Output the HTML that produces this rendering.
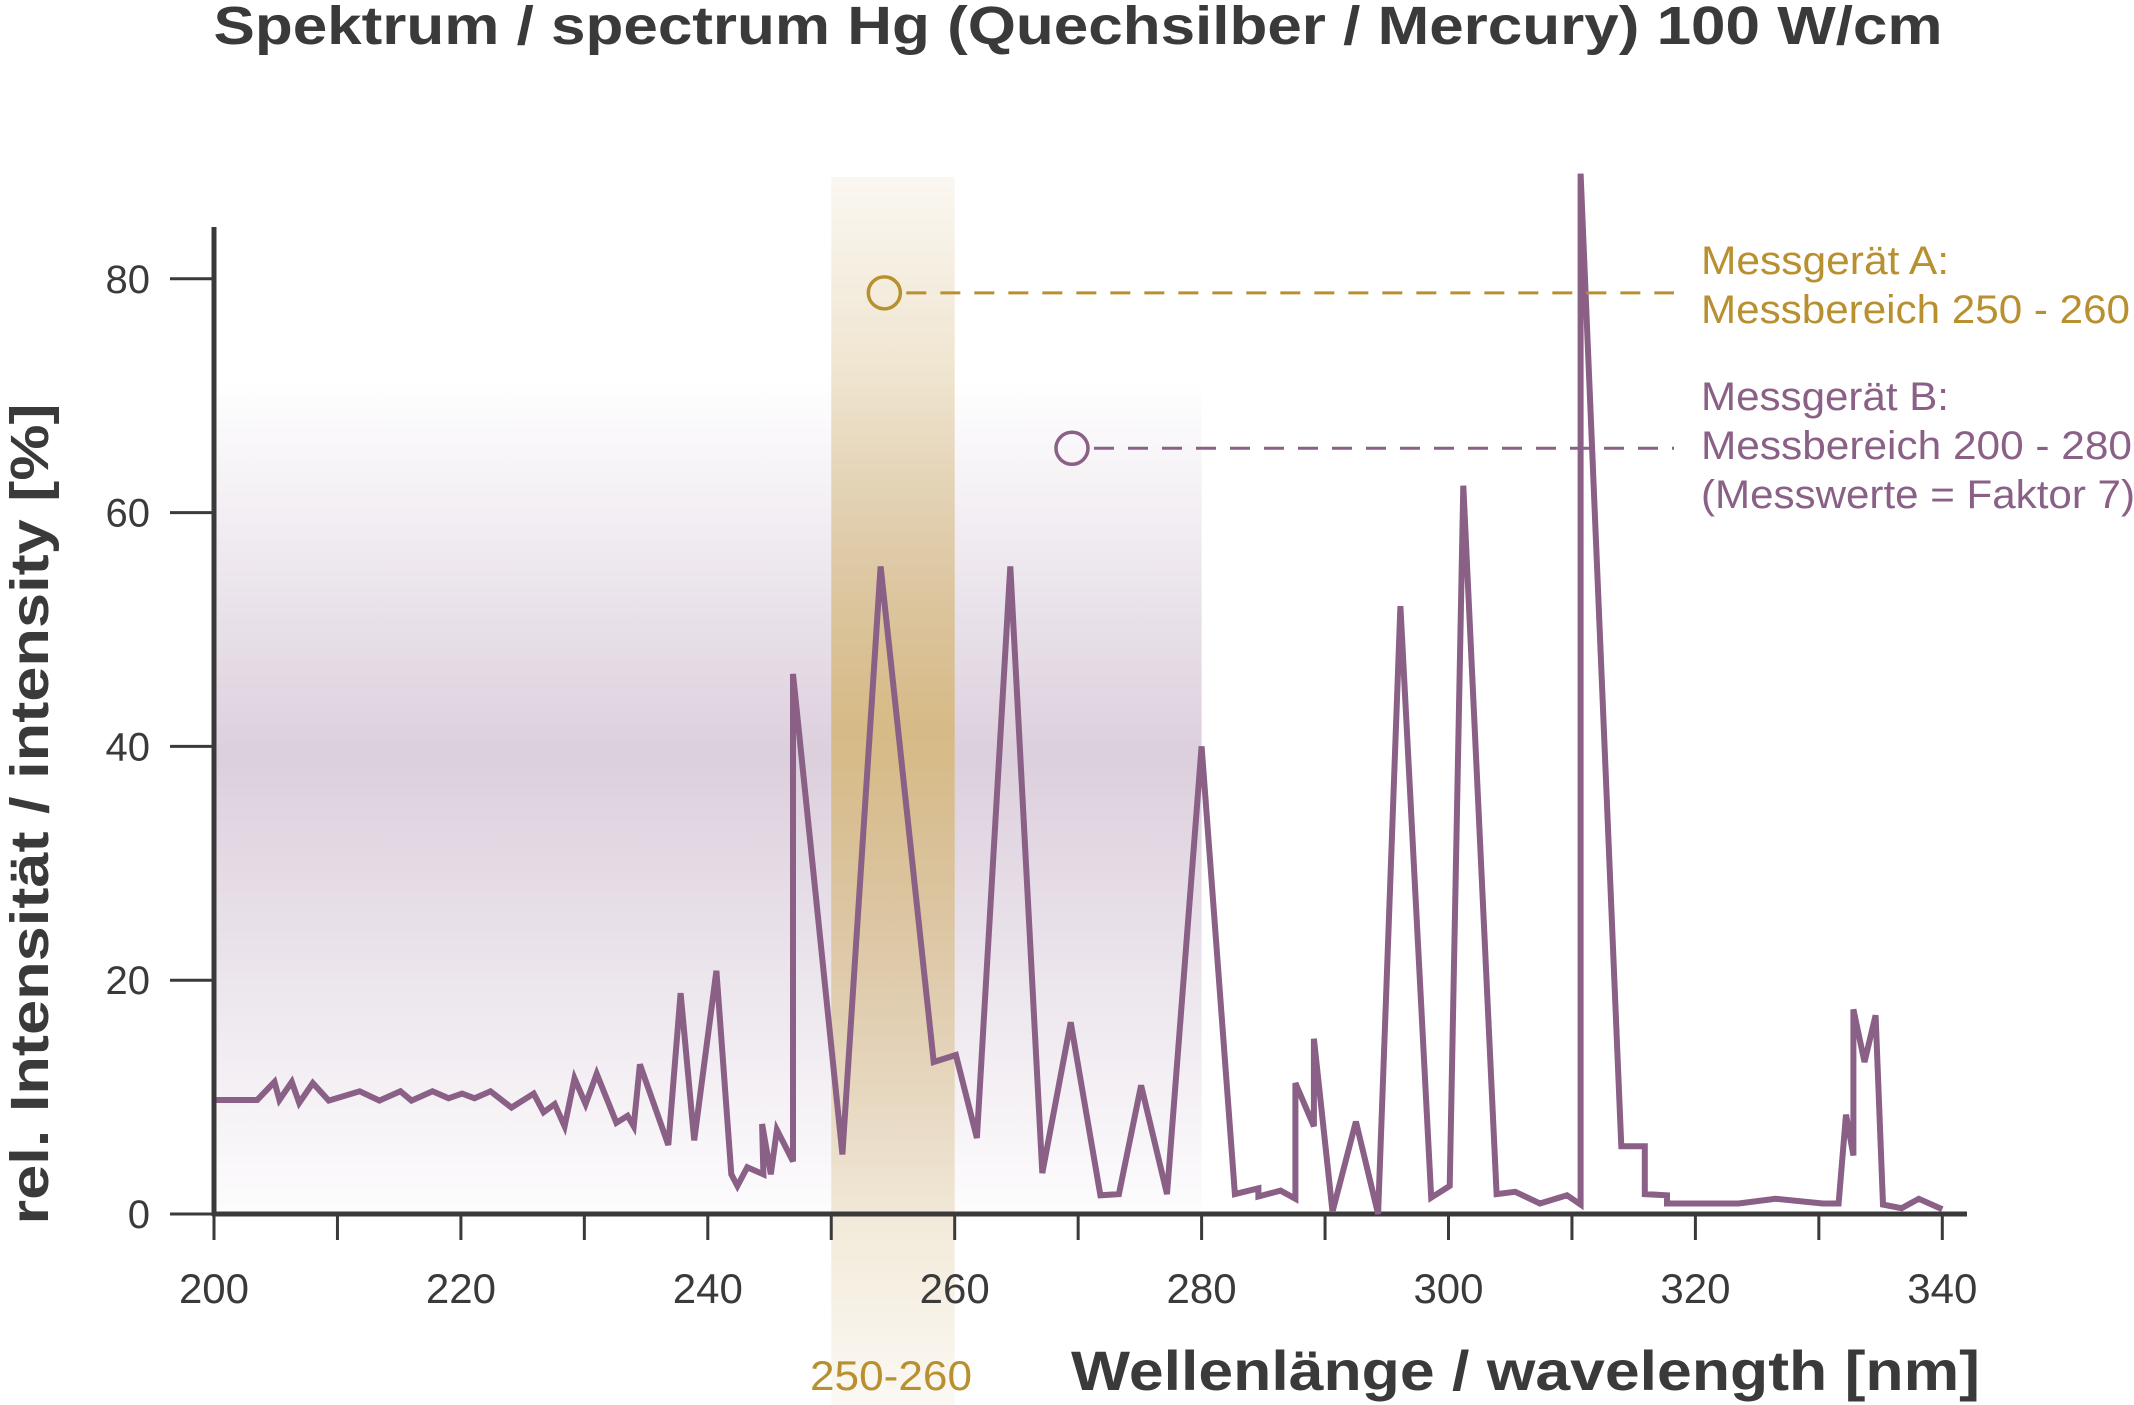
<!DOCTYPE html>
<html><head><meta charset="utf-8"><style>
html,body{margin:0;padding:0;background:#fff;}
svg{display:block;font-family:"Liberation Sans",sans-serif;}
</style></head><body>
<svg id="chart" width="2134" height="1405" viewBox="0 0 2134 1405" xmlns="http://www.w3.org/2000/svg">
<defs>
<linearGradient id="gGold" x1="0" y1="0" x2="0" y2="1">
<stop offset="0" stop-color="#d8bf8c" stop-opacity="0.12"/>
<stop offset="0.45" stop-color="#d6b87c" stop-opacity="0.9"/>
<stop offset="1" stop-color="#d8bf8c" stop-opacity="0.1"/>
</linearGradient>
<linearGradient id="gPurp" x1="0" y1="0" x2="0" y2="1">
<stop offset="0" stop-color="#d8cad9" stop-opacity="0"/>
<stop offset="0.45" stop-color="#d8cad9" stop-opacity="0.9"/>
<stop offset="1" stop-color="#d8cad9" stop-opacity="0.05"/>
</linearGradient>
</defs>
<text x="1078" y="44" text-anchor="middle" font-size="54" font-weight="bold" fill="#3a3a3a" textLength="1729" lengthAdjust="spacingAndGlyphs">Spektrum / spectrum Hg (Quechsilber / Mercury) 100 W/cm</text>
<g id="bands"></g>
<g id="axes"></g>
<g id="series"></g>
<g id="legend"></g>
<text transform="translate(48,814) rotate(-90)" text-anchor="middle" font-size="54" font-weight="bold" fill="#3a3a3a" textLength="821" lengthAdjust="spacingAndGlyphs">rel. Intensität / intensity [%]</text>
<text x="1980" y="1390" text-anchor="end" font-size="56" font-weight="bold" fill="#3a3a3a" textLength="909" lengthAdjust="spacingAndGlyphs">Wellenlänge / wavelength [nm]</text>
<text x="891" y="1390" text-anchor="middle" font-size="42" fill="#b8902f" textLength="162" lengthAdjust="spacingAndGlyphs">250-260</text>
</svg>
<script>
const xTicks = [200,220,240,260,280,300,320,340];
const yTicks = [0,20,40,60,80];
const wavelengths = [200.2,203.5,204.9,205.3,206.3,206.9,208,209.3,211.8,213.4,215.1,216,217.7,219,220.1,221.1,222.4,224.1,225.9,226.7,227.6,228.4,229.2,230.1,231,232.6,233.5,234,234.5,236.8,237.8,238.9,240.7,241.9,242.4,243.2,244.5,244.4,245.1,245.6,246.9,246.9,250.9,254,258.3,260.1,261.8,264.5,267.1,269.4,271.8,273.3,275.1,277.2,280,282.7,284.6,284.6,286.4,287.6,287.6,289.1,289.1,290.6,292.5,294.3,296.1,298.6,300.1,301.2,303.9,305.4,307.4,309.6,310.7,310.7,314,315.9,315.9,317.7,317.7,323.5,326.5,330.3,331.6,332.2,332.8,332.8,333.7,334.6,335.2,336.7,338.1,340];
const intensities = [9.75,9.75,11.3,9.75,11.3,9.5,11.2,9.7,10.5,9.7,10.5,9.7,10.5,9.9,10.3,9.9,10.5,9.1,10.3,8.7,9.4,7.5,11.6,9.4,12,7.8,8.4,7.5,12.8,5.9,18.9,6.3,20.8,3.4,2.4,4,3.4,7.7,3.4,7.2,4.5,46.2,5.1,55.4,13,13.6,6.5,55.4,3.5,16.4,1.6,1.7,11,1.7,40,1.7,2.2,1.5,2,1.3,11.2,7.5,15,0.2,7.9,0,52,1.4,2.4,62.3,1.7,1.9,0.9,1.6,0.8,89,5.8,5.8,1.7,1.6,0.9,0.9,1.3,0.9,0.9,8.5,5,17.5,13,17,0.8,0.5,1.3,0.4];
const bandA = [250,260];
const bandB = [200,280];
const markerA = [254.3,78.8];
const markerB = [269.5,65.5];

const NS='http://www.w3.org/2000/svg';
const X0=214, PX=12.345, Y0=1214, PY=11.69;
const sx=v=>X0+(v-200)*PX;
const sy=v=>Y0-v*PY;
function mk(tag,attrs,parent){const e=document.createElementNS(NS,tag);for(const k in attrs)e.setAttribute(k,attrs[k]);parent.appendChild(e);return e;}
const bands=document.getElementById('bands'),axes=document.getElementById('axes'),series=document.getElementById('series'),legend=document.getElementById('legend');

let r=mk('rect',{x:sx(bandB[0]),y:380,width:sx(bandB[1])-sx(bandB[0]),height:Y0-380,fill:'url(#gPurp)'},bands);


r=mk('rect',{x:sx(bandA[0]),y:177,width:sx(bandA[1])-sx(bandA[0]),height:1405-177,fill:'url(#gGold)'},bands);



let l=mk('line',{x1:X0,y1:227,x2:X0,y2:Y0+2,stroke:'#3a3a3a','stroke-width':5},axes);


l=mk('line',{x1:X0-2,y1:Y0,x2:1967,y2:Y0,stroke:'#3a3a3a','stroke-width':5},axes);


yTicks.forEach(v=>{
  const t=mk('line',{x1:170,y1:sy(v),x2:X0,y2:sy(v),stroke:'#3a3a3a','stroke-width':3},axes);
  
  
  const tx=mk('text',{x:150,y:sy(v)+14,'text-anchor':'end','font-size':40,fill:'#3a3a3a'},axes);
  tx.textContent=v;
  
  
});
for(let v=200;v<=340;v+=10){
  const t=mk('line',{x1:sx(v),y1:Y0,x2:sx(v),y2:1240,stroke:'#3a3a3a','stroke-width':3},axes);
  
  
}
xTicks.forEach(v=>{
  const tx=mk('text',{x:sx(v),y:1303,'text-anchor':'middle','font-size':42,fill:'#3a3a3a'},axes);
  tx.textContent=v;
  
  
});

const pts=wavelengths.map((w,i)=>sx(w).toFixed(1)+','+sy(intensities[i]).toFixed(1)).join(' ');
const pl=mk('polyline',{points:pts,fill:'none',stroke:'#8a6086','stroke-width':6,'stroke-linejoin':'miter','stroke-miterlimit':4},series);



function marker(m,color,name,lines,widths,ty){
  const cx=sx(m[0]),cy=sy(m[1]);
  const c=mk('circle',{cx:cx,cy:cy,r:16,fill:'none',stroke:color,'stroke-width':3.5},legend);
  
  
  const d=mk('line',{x1:cx+22,y1:cy,x2:1674,y2:cy,stroke:color,'stroke-width':3,'stroke-dasharray':'20 14'},legend);
  
  
  lines.forEach((s,i)=>{
    const t=mk('text',{x:1701,y:ty+i*49,'font-size':40,fill:color,textLength:widths[i],lengthAdjust:'spacingAndGlyphs'},legend);
    t.textContent=s;
    
    
  });
}
marker(markerA,'#b8902f','device-a',['Messgerät A:','Messbereich 250 - 260'],[248,429],274);
marker(markerB,'#8a6086','device-b',['Messgerät B:','Messbereich 200 - 280','(Messwerte = Faktor 7)'],[248,431,434],410);
</script>
</body></html>
